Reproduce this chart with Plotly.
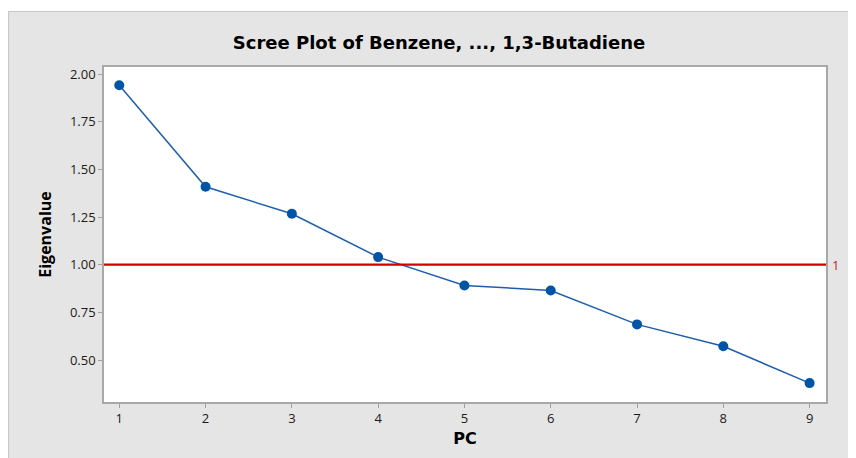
import plotly.graph_objects as go

# Scree plot data
pc = [1, 2, 3, 4, 5, 6, 7, 8, 9]
eigenvalue = [1.941, 1.409, 1.267, 1.040, 0.891, 0.865, 0.687, 0.572, 0.379]
ref_value = 1
y_ticks = [0.50, 0.75, 1.00, 1.25, 1.50, 1.75, 2.00]

# page body has an 8px margin, so the figure is drawn 8px in from the window edge
W, H = 848, 450
L, R, T, B = 96, 30, 59, 56
pw, ph = W - L - R, H - T - B


def px_x(px):
    return (px - L) / pw


def px_y(py):
    return (H - B - py) / ph


fig = go.Figure()

fig.add_trace(
    go.Scatter(
        x=pc,
        y=eigenvalue,
        mode="lines+markers",
        line=dict(color="#1F5FAA", width=1.5),
        marker=dict(color="#0054A6", size=10),
        showlegend=False,
        hoverinfo="x+y",
    )
)

# reference line at eigenvalue = 1
fig.add_hline(y=ref_value, line=dict(color="#D40000", width=2.2), layer="above")
fig.add_annotation(
    x=1, xref="paper", y=ref_value, yref="y", text=str(ref_value),
    showarrow=False, xanchor="left", xshift=4,
    font=dict(family="Open Sans", size=13, color="#C0201E"),
)

# white strip above the gray panel plus panel border
fig.add_shape(type="rect", xref="paper", yref="paper", x0=px_x(0), x1=px_x(W), y0=px_y(3), y1=px_y(0),
              fillcolor="white", line_width=0, layer="below")
fig.add_shape(type="path", xref="paper", yref="paper",
              path=f"M {px_x(0.5)} {px_y(H)} L {px_x(0.5)} {px_y(3.5)} L {px_x(W)} {px_y(3.5)}",
              line=dict(color="#C8C8C8", width=1.2), layer="below")

fig.update_layout(
    width=W,
    height=H,
    margin=dict(l=L, r=R, t=T, b=B),
    paper_bgcolor="#E5E5E5",
    plot_bgcolor="white",
    title=dict(
        text="<b>Scree Plot of Benzene, ..., 1,3-Butadiene</b>",
        x=431 / W, xanchor="center",
        y=1 - 35 / H, yanchor="middle",
        font=dict(family="DejaVu Sans", size=18, color="black"),
    ),
    font=dict(family="Open Sans", size=13, color="#1A1A1A"),
)

fig.update_xaxes(
    range=[0.823, 9.19],
    tickvals=pc,
    ticks="outside", ticklen=4, tickcolor="#A0A0A0",
    showline=True, linecolor="#A8A8A8", linewidth=1.5, mirror=True,
    showgrid=False, zeroline=False,
    title=dict(text="<b>PC</b>", font=dict(family="DejaVu Sans", size=16, color="black"), standoff=6),
)
fig.update_yaxes(
    range=[0.28, 2.037],
    tickvals=y_ticks,
    tickformat=".2f",
    ticks="outside", ticklen=4, tickcolor="#A0A0A0",
    showline=True, linecolor="#A8A8A8", linewidth=1.5, mirror=True,
    showgrid=False, zeroline=False,
    title=dict(text="<b>Eigenvalue</b>", font=dict(family="Liberation Sans Narrow, Open Sans", size=16, color="black"), standoff=14),
)

fig.write_html("out.html")
